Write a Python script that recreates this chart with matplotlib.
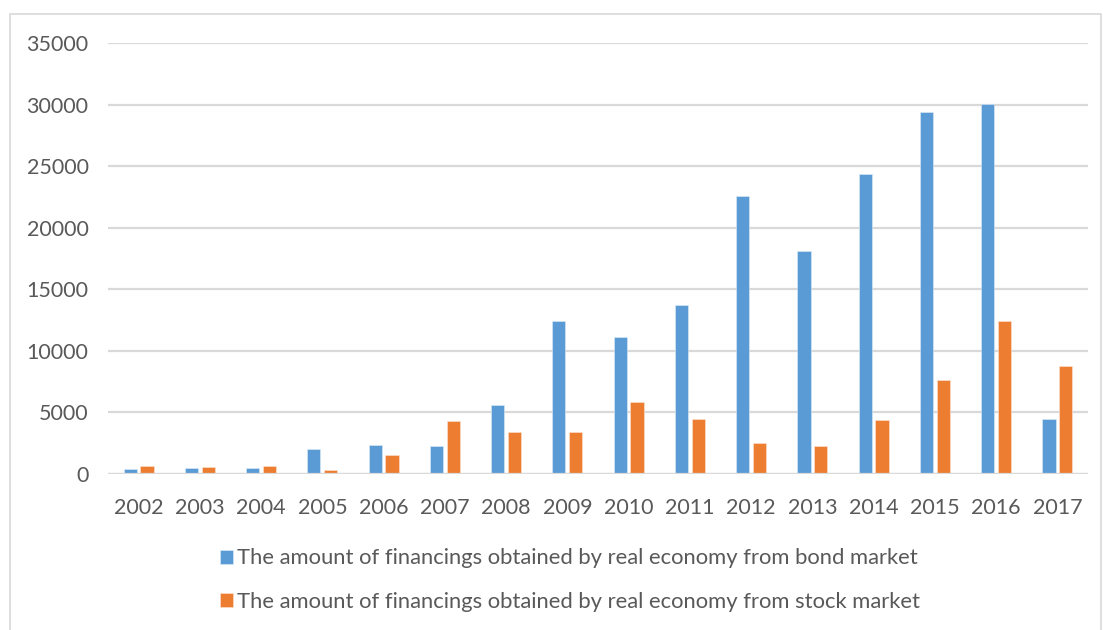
import numpy as np
import matplotlib.pyplot as plt
from matplotlib.patches import Rectangle

plt.rcParams['font.family'] = ['Lato', 'DejaVu Sans']

years = ['2002', '2003', '2004', '2005', '2006', '2007', '2008', '2009',
         '2010', '2011', '2012', '2013', '2014', '2015', '2016', '2017']
bond = [380, 500, 460, 2000, 2350, 2300, 5580, 12420,
        11120, 13720, 22550, 18130, 24330, 29430, 30050, 4470]
stock = [650, 550, 680, 340, 1550, 4330, 3390, 3420,
         5830, 4430, 2520, 2260, 4390, 7630, 12440, 8780]
bond_label = 'The amount of financings obtained by real economy from bond market'
stock_label = 'The amount of financings obtained by real economy from stock market'

blue = '#5B9BD5'
orange = '#ED7D31'
grey_text = '#595959'

fig = plt.figure(figsize=(11.03, 6.30), dpi=100)
ax = fig.add_axes([0.0979, 0.2476, 0.8885, 0.6841])

x = np.arange(len(years))
w = 0.215
off = 0.138
ax.bar(x - off, bond, w, color=blue, edgecolor='#DDEBF7', linewidth=0.4, label=bond_label, zorder=3)
ax.bar(x + off, stock, w, color=orange, edgecolor='#FBE5D6', linewidth=0.4, label=stock_label, zorder=3)

ax.set_xlim(-0.5, len(years) - 0.5)
ax.set_ylim(0, 35000)
ax.set_yticks(np.arange(0, 35001, 5000))
ax.set_xticks(x)
ax.set_xticklabels(years)
ax.yaxis.grid(True, color='#D9D9D9', linewidth=1.6, zorder=0)
for s in ax.spines.values():
    s.set_visible(False)
ax.axhline(0, color='#D9D9D9', linewidth=1.6, zorder=4)
ax.tick_params(axis='both', length=0, labelsize=15.5, colors=grey_text)
ax.tick_params(axis='y', pad=14)
ax.tick_params(axis='x', pad=17)

# chart border
fig.patches.append(Rectangle((10 / 1103, -0.05), 1091 / 1103, 1.05 - 14 / 630,
                             transform=fig.transFigure, fill=False,
                             edgecolor='#D9D9D9', linewidth=1.2))

leg = fig.legend(loc='center', bbox_to_anchor=(570 / 1103, 1 - 580 / 630),
                 ncol=1, frameon=False, fontsize=15.8, handlelength=0.6,
                 handleheight=0.6, handletextpad=0.15, labelspacing=1.05)
for t in leg.get_texts():
    t.set_color(grey_text)

fig.savefig('out.png', dpi=100)
